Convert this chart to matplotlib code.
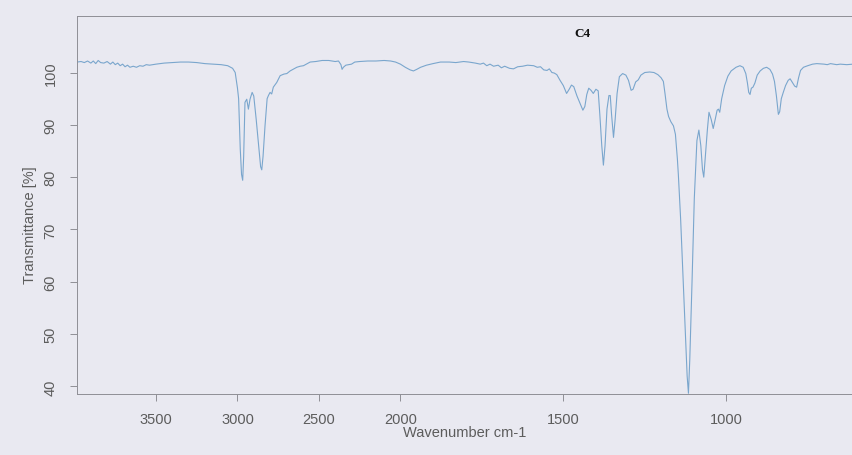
import numpy as np
import matplotlib
matplotlib.use("Agg")
import matplotlib.pyplot as plt

# FT-IR spectrum of sample C4 (wavenumber in cm-1, transmittance in %)
wavenumber = [
    3985, 3960, 3940, 3920, 3900, 3885, 3870, 3855, 3840, 3820, 3800, 3780,
    3765, 3750, 3735, 3720, 3705, 3690, 3675, 3660, 3640, 3620, 3600, 3580,
    3560, 3540, 3500, 3450, 3400, 3350, 3300, 3250, 3200, 3150, 3100, 3060,
    3030, 3014, 3000, 2993, 2983, 2975, 2968, 2962, 2957, 2954, 2943, 2933,
    2923, 2910, 2900, 2885, 2870, 2858, 2851, 2843, 2831, 2818, 2810, 2800,
    2790, 2780, 2759, 2738, 2715, 2697, 2677, 2660, 2636, 2615, 2595, 2554,
    2520, 2480, 2440, 2400, 2380, 2365, 2358, 2350, 2335, 2300, 2280, 2250,
    2200, 2150, 2100, 2060, 2030, 2000, 1985, 1970, 1960, 1950, 1938, 1920,
    1900, 1877, 1850, 1830, 1806, 1790, 1770, 1755, 1745, 1735, 1725, 1714,
    1700, 1690, 1680, 1665, 1653, 1640, 1625, 1610, 1591, 1580, 1570, 1560,
    1550, 1543, 1535, 1528, 1520, 1510, 1500, 1490, 1482, 1475, 1468, 1458,
    1448, 1440, 1434, 1428, 1422, 1415, 1408, 1400, 1393, 1388, 1382, 1377,
    1372, 1366, 1360, 1356, 1352, 1346, 1341, 1335, 1328, 1318, 1308, 1300,
    1292, 1286, 1278, 1270, 1262, 1250, 1235, 1222, 1210, 1200, 1193, 1188,
    1182, 1177, 1170, 1162, 1156, 1150, 1147, 1140, 1132, 1125, 1120, 1116,
    1112, 1105, 1098, 1090, 1084, 1078, 1073, 1069, 1064, 1058, 1053, 1046,
    1040, 1034, 1028, 1024, 1020, 1014, 1005, 995, 985, 970, 958, 948,
    940, 935, 931, 927, 923, 918, 912, 905, 896, 886, 876, 866,
    858, 852, 846, 840, 836, 831, 825, 818, 810, 804, 796, 790,
    784, 778, 772, 763, 750, 735, 722, 700, 690, 680, 661, 650,
    630, 611,
]
transmittance = [
    102.0, 102.1, 101.9, 102.2, 101.8, 102.2, 101.7, 102.3, 101.9, 101.8, 102.1, 101.6,
    102.0, 101.5, 101.8, 101.3, 101.6, 101.1, 101.4, 101.0, 101.2, 101.0, 101.3, 101.2,
    101.5, 101.4, 101.6, 101.8, 101.9, 102.0, 102.0, 101.9, 101.7, 101.6, 101.5, 101.3,
    100.8, 100.0, 97.0, 95.0, 85.4, 80.5, 79.4, 84.0, 90.0, 94.3, 94.9, 93.0,
    94.9, 96.2, 95.5, 91.0, 86.0, 82.0, 81.4, 84.0, 89.8, 95.0, 95.6, 96.2,
    95.9, 97.2, 98.1, 99.4, 99.7, 99.8, 100.3, 100.6, 101.0, 101.2, 101.3, 102.0,
    102.1, 102.3, 102.3, 102.1, 102.2, 101.5, 100.6, 101.0, 101.4, 101.6, 102.0, 102.1,
    102.2, 102.2, 102.3, 102.2, 102.0, 101.6, 101.0, 100.5, 100.3, 100.6, 101.0, 101.4,
    101.7, 102.0, 102.0, 101.9, 102.1, 102.0, 101.8, 101.6, 101.8, 101.3, 101.6, 101.2,
    101.4, 100.9, 101.2, 100.8, 100.7, 101.1, 101.2, 101.4, 101.3, 101.0, 101.1, 100.5,
    100.4, 100.7, 100.0, 99.9, 99.6, 98.5, 97.5, 96.0, 96.8, 97.6, 97.3, 95.5,
    94.0, 92.8, 93.5, 95.8, 97.0, 96.6, 96.0, 96.8, 96.5, 92.0, 86.0, 82.3,
    86.0, 93.0, 95.6, 95.6, 92.0, 87.6, 91.0, 96.0, 99.2, 99.8, 99.5, 98.5,
    96.6, 96.8, 98.2, 98.6, 99.5, 100.0, 100.1, 100.0, 99.6, 99.0, 98.3, 96.0,
    93.0, 91.6, 90.6, 89.8, 88.2, 83.5, 80.5, 72.0, 60.0, 49.0, 42.0, 38.7,
    45.0, 60.0, 76.0, 87.0, 89.0, 86.0, 81.5, 80.0, 84.0, 89.0, 92.4, 91.0,
    89.3, 91.0, 92.8, 93.0, 92.4, 95.0, 97.5, 99.3, 100.3, 101.0, 101.3, 101.0,
    99.8, 98.0, 96.2, 95.8, 97.0, 97.2, 98.0, 99.5, 100.3, 100.8, 101.0, 100.6,
    99.7, 98.3, 95.5, 92.0, 92.5, 95.0, 96.2, 97.5, 98.5, 98.8, 98.0, 97.4,
    97.2, 99.0, 100.4, 101.0, 101.3, 101.6, 101.7, 101.6, 101.5, 101.7, 101.5, 101.6,
    101.5, 101.6,
]
x_ticks = [3500, 3000, 2500, 2000, 1500, 1000]
y_ticks = [40, 50, 60, 70, 80, 90, 100]

BREAK = 2000.0  # below this wavenumber the axis is expanded two-fold


def forward(w):
    w = np.asarray(w, dtype=float)
    return np.where(w >= BREAK, w - BREAK, 2.0 * (w - BREAK))


def inverse(u):
    u = np.asarray(u, dtype=float)
    return np.where(u >= 0, u + BREAK, u / 2.0 + BREAK)


bg = "#e9e9f1"
grey = "#5c5c5c"
spine = "#8f8f96"

plt.rcParams["font.family"] = ["Liberation Sans", "DejaVu Sans"]

fig = plt.figure(figsize=(8.53, 4.56), dpi=100, facecolor=bg)
ax = fig.add_axes([77 / 853, 1 - 395 / 456, 1 - 77 / 853, (395 - 17) / 456])
ax.set_facecolor(bg)

ax.set_xscale("function", functions=(forward, inverse))
ax.plot(wavenumber, transmittance, color="#7aa6cd", lw=0.8)

ax.set_xlim(3985, 611)
ax.set_ylim(38.56, 110.8)
ax.set_xticks(x_ticks)
ax.set_xticklabels([str(t) for t in x_ticks])
ax.set_yticks(y_ticks)
ax.set_yticklabels([str(t) for t in y_ticks], rotation=90, va="center")
ax.minorticks_off()

for side in ("left", "bottom", "top"):
    ax.spines[side].set_color(spine)
    ax.spines[side].set_linewidth(0.7)
ax.spines["right"].set_visible(False)

ax.tick_params(axis="both", colors=spine, labelcolor=grey, labelsize=10.5,
               length=5, width=0.7, direction="out", pad=8)
ax.tick_params(axis="y", pad=9)
ax.tick_params(axis="x", top=False)

fig.text(30 / 853, 1 - 225 / 456, "Transmittance [%]", rotation=90,
         ha="center", va="center", color=grey, fontsize=10.5)
fig.text(465 / 853, 1 - 433 / 456, "Wavenumber cm-1",
         ha="center", va="center", color=grey, fontsize=10.5)
fig.text(582 / 853, 1 - 34 / 456, "C4", ha="center", va="center",
         color="#111111", fontsize=9.5, fontweight="bold",
         family=["Liberation Serif", "DejaVu Serif"])

fig.savefig("out.png", dpi=100, facecolor=bg)
